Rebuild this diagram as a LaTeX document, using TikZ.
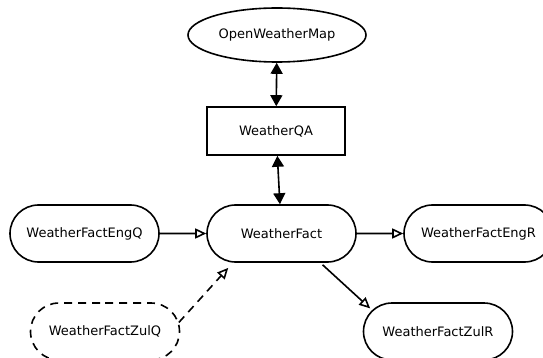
\documentclass[tikz,border=0pt]{standalone}
\usepackage{fontspec}
\setmainfont{DejaVu Sans}
\usetikzlibrary{shapes.geometric,shapes.misc,arrows.meta}

\begin{document}
\begin{tikzpicture}[x=1pt,y=-1pt,
    font=\fontsize{13}{15}\selectfont,
    api/.style={draw,ellipse,line width=1.6pt,minimum width=178pt,minimum height=54pt,inner sep=0pt},
    qabox/.style={draw,rectangle,line width=1.6pt,minimum width=138pt,minimum height=48pt,inner sep=0pt},
    module/.style={draw,rounded rectangle,line width=1.6pt,minimum width=149pt,minimum height=57pt,inner sep=0pt},
    twoway/.style={line width=1.6pt,{Triangle[length=11pt,width=12pt]}-{Triangle[length=11pt,width=12pt]}},
    feeds/.style={line width=1.6pt,-{Triangle[open,length=11pt,width=10pt]}}]
    \useasboundingbox (0,0) rectangle (543,358);
    % service and question answering
    \node[api] (owm) at (277,35) {OpenWeatherMap};
    \node[qabox] (qa) at (276,131) {WeatherQA};
    % fact modules
    \node[module] (fact) at (281.5,233.5) {WeatherFact};
    \node[module] (engq) at (84.5,233.5) {WeatherFactEngQ};
    \node[module] (engr) at (478.5,233.5) {WeatherFactEngR};
    \node[module,dash pattern=on 8pt off 6pt] (zulq) at (105,331.5) {WeatherFactZulQ};
    \node[module] (zulr) at (438,331.5) {WeatherFactZulR};
    % links
    \draw[twoway] (owm) -- (qa);
    \draw[twoway] (qa) -- (fact);
    \draw[feeds] (engq) -- (fact);
    \draw[feeds] (fact) -- (engr);
    \draw[feeds,shorten <=3pt,shorten >=2.5pt] (fact.-37) -- (zulr.162);
    \draw[feeds,dash pattern=on 8pt off 6pt,shorten >=7pt] (zulq.7) -- (fact.-149);
\end{tikzpicture}
\end{document}
